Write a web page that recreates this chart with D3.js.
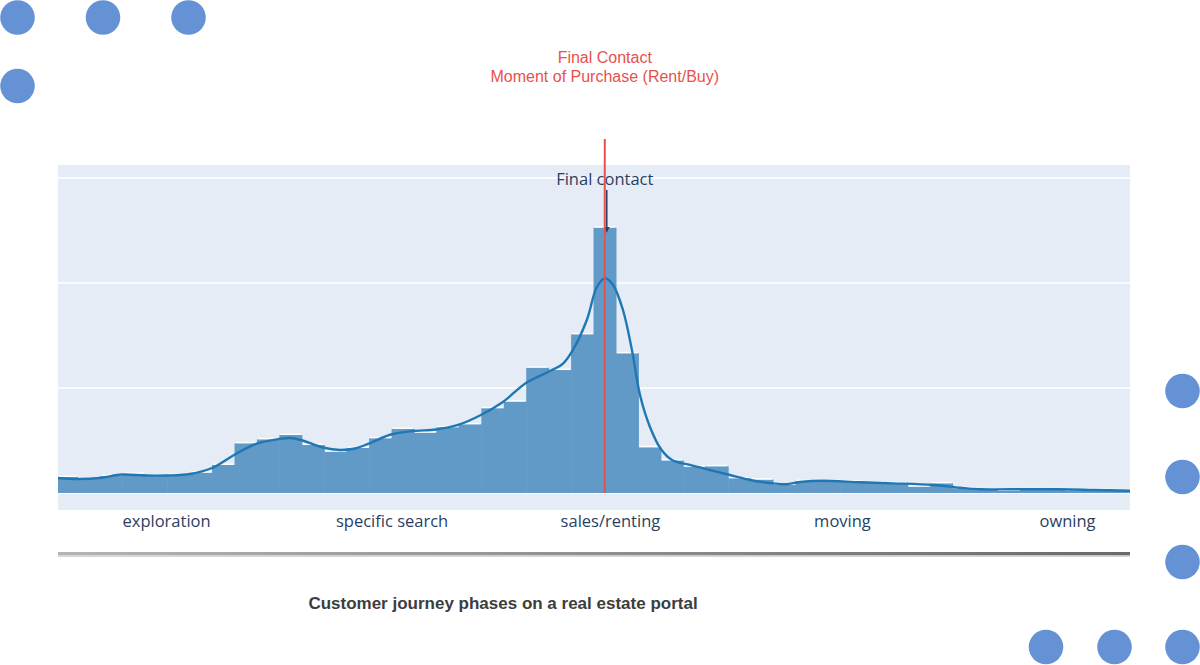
<!DOCTYPE html>
<html>
<head>
<meta charset="utf-8">
<script src="https://cdn.jsdelivr.net/npm/d3@7"></script>
<style>
  html, body { margin: 0; padding: 0; background: #ffffff; }
  svg { display: block; }
</style>
</head>
<body>
<div id="chart"></div>
<script>
// ---------------- DATA ----------------
// histogram counts per bin (48 equal bins along the customer journey axis)
const binCounts = [
  15.2, 13.3, 16.2, 18.1, 16.2, 17.1, 19.3, 26.7, 47.3, 51.1,
  55.2, 45.7, 39.3, 42.9, 52.1, 61.0, 57.4, 62.6, 65.4, 80.7,
  87.0, 119.3, 117.1, 151.1, 252.7, 133.0, 43.5, 31.0, 25.0, 25.4,
  14.0, 12.7, 7.6, 11.4, 11.7, 10.8, 9.8, 9.2, 6.0, 9.2,
  4.5, 3.5, 1.9, 3.5, 3.5, 2.2, 3.1, 2.2
];
// density curve (position in bin units, value in count units)
const kdeX = [0.13, 0.98, 2.0, 2.99, 4.01, 4.99, 6.02, 7.0, 7.98, 8.96,
  9.98, 10.47, 10.96, 11.94, 12.7, 13.37, 13.95, 14.97, 15.95, 16.98,
  17.96, 18.98, 19.96, 20.99, 21.97, 22.64, 23.08, 23.7, 24.15, 24.51,
  24.87, 25.31, 25.71, 26.07, 26.51, 27.0, 27.5, 28.3, 29.19, 30.08,
  30.97, 32.0, 32.58, 33.2, 34.22, 35.87, 37.34, 39.13, 40.33, 41.22,
  42.56, 44.79, 46.26, 47.91];
const kdeY = [14.3, 13.3, 14.3, 17.6, 16.7, 16.7, 18.1, 23.8, 36.2, 46.7,
  51.4, 52.4, 50.5, 43.3, 41.0, 42.4, 46.7, 55.7, 59.0, 60.5,
  64.8, 74.3, 86.7, 104.8, 115.2, 123.3, 136.2, 164.8, 196.2, 204.5,
  198.1, 174.3, 136.2, 93.3, 63.1, 41.9, 31.4, 26.7, 21.9, 17.1,
  12.4, 9.2, 8.3, 10.5, 11.7, 10.2, 9.2, 7.6, 5.0, 3.5,
  3.5, 3.5, 2.9, 2.2];
// journey phase labels on the x axis
const phaseLabels = ["exploration", "specific search", "sales/renting", "moving", "owning"];
const phasePositions = [4.95, 15.0, 24.73, 35.07, 45.1];
// grid values (y)
const gridValues = [0, 100, 200, 300];
// final contact marker
const finalContactX = 24.5;
const finalContactBin = 24;
const topAnnotationLines = ["Final Contact", "Moment of Purchase (Rent/Buy)"];
const markerLabel = "Final contact";
const chartTitle = "Customer journey phases on a real estate portal";

// ---------------- LAYOUT ----------------
const W = 1200, H = 665;
const plot = { left: 58, right: 1130, top: 165, bottom: 510 };

const svg = d3.select("#chart").append("svg")
  .attr("width", W).attr("height", H);

const x = d3.scaleLinear().domain([0, binCounts.length]).range([55, 1132.1]);
const y = d3.scaleLinear().domain([-16.2, 312.4]).range([plot.bottom, plot.top]);

const defs = svg.append("defs");
defs.append("clipPath").attr("id", "plotclip")
  .append("rect")
  .attr("x", plot.left).attr("y", plot.top)
  .attr("width", plot.right - plot.left).attr("height", plot.bottom - plot.top);

const grad = defs.append("linearGradient").attr("id", "sepgrad")
  .attr("x1", "0%").attr("x2", "100%").attr("y1", "0%").attr("y2", "0%");
grad.append("stop").attr("offset", "0%").attr("stop-color", "#b4b4b4");
grad.append("stop").attr("offset", "100%").attr("stop-color", "#6a6a6a");

const arrowM = defs.append("marker").attr("id", "arrowhead")
  .attr("viewBox", "0 0 10 10").attr("refX", 5).attr("refY", 5)
  .attr("markerWidth", 4).attr("markerHeight", 4).attr("orient", "auto");
arrowM.append("path").attr("d", "M0,0 L10,5 L0,10 z").attr("fill", "#2a3f5f");

// decorative dots
const dotColor = "#6592d5";
const dots = [[17.5, 17.5], [103, 17.5], [188.5, 17.5], [17.5, 86],
  [1182.5, 391], [1182.5, 477], [1182.5, 562],
  [1046, 647], [1114.5, 647], [1182.5, 647]];
svg.append("g").selectAll("circle").data(dots).join("circle")
  .attr("cx", d => d[0]).attr("cy", d => d[1]).attr("r", 17.3)
  .attr("fill", dotColor);

// plot background
svg.append("rect")
  .attr("x", plot.left).attr("y", plot.top)
  .attr("width", plot.right - plot.left).attr("height", plot.bottom - plot.top)
  .attr("fill", "#e5ecf6");

// gridlines
svg.append("g").selectAll("line").data(gridValues).join("line")
  .attr("x1", plot.left).attr("x2", plot.right)
  .attr("y1", d => y(d)).attr("y2", d => y(d))
  .attr("stroke", "#ffffff")
  .attr("stroke-width", d => d === 0 ? 2 : 1.5);

const g = svg.append("g").attr("clip-path", "url(#plotclip)");

// bars (opaque blend of #1f77b4 at 0.7 over the plot background)
g.append("g").selectAll("rect").data(binCounts).join("rect")
  .attr("x", (d, i) => x(i)).attr("width", (d, i) => x(i + 1) - x(i) + 0.5)
  .attr("y", d => y(d)).attr("height", d => y(0) - y(d))
  .attr("fill", "#619ac7");

// white top edges of bars
g.append("g").selectAll("line").data(binCounts).join("line")
  .attr("x1", (d, i) => x(i) + 1).attr("x2", (d, i) => x(i + 1) - 1)
  .attr("y1", d => y(d) - 0.8).attr("y2", d => y(d) - 0.8)
  .attr("stroke", "#ffffff").attr("stroke-width", 1.4).attr("stroke-opacity", 0.9);

// density curve
const kde = kdeX.map((v, i) => [v, kdeY[i]]);
g.append("path").datum(kde)
  .attr("d", d3.line().x(d => x(d[0])).y(d => y(d[1])).curve(d3.curveCatmullRom.alpha(0.5)))
  .attr("fill", "none").attr("stroke", "#1f77b4").attr("stroke-width", 2.4);

// x axis labels
const xAxis = d3.axisBottom(x).tickValues(phasePositions)
  .tickFormat((d, i) => phaseLabels[i]).tickSize(0).tickPadding(0);
const ax = svg.append("g").attr("transform", `translate(0, ${plot.bottom})`).call(xAxis);
ax.select(".domain").remove();
ax.selectAll("text")
  .attr("y", 5)
  .attr("fill", "#2a3f5f")
  .style("font-family", "'Open Sans', sans-serif")
  .style("font-size", "16.5px");

// annotation arrow (dark) beside red marker
const fx = x(finalContactX);
svg.append("line")
  .attr("x1", fx + 2).attr("x2", fx + 2)
  .attr("y1", 190).attr("y2", y(binCounts[finalContactBin]) + 2)
  .attr("stroke", "#2a3f5f").attr("stroke-width", 1.5)
  .attr("marker-end", "url(#arrowhead)");

// marker label
svg.append("text")
  .attr("x", fx).attr("y", 185)
  .attr("text-anchor", "middle")
  .attr("fill", "#2a3f5f")
  .style("font-family", "'Open Sans', sans-serif")
  .style("font-size", "16.5px")
  .text(markerLabel);

// red vertical line
svg.append("line")
  .attr("x1", fx).attr("x2", fx)
  .attr("y1", 139).attr("y2", y(0))
  .attr("stroke", "#e9504d").attr("stroke-width", 2);

// red annotation text
svg.append("g").selectAll("text").data(topAnnotationLines).join("text")
  .attr("x", fx).attr("y", (d, i) => 63 + i * 19)
  .attr("text-anchor", "middle")
  .attr("fill", "#e9504d")
  .style("font-family", "'Liberation Sans', Arial, sans-serif")
  .style("font-size", "16px")
  .text(d => d);

// separator line below the axis
svg.append("rect")
  .attr("x", plot.left).attr("y", 552)
  .attr("width", plot.right - plot.left).attr("height", 3.5)
  .attr("fill", "url(#sepgrad)");
svg.append("rect")
  .attr("x", plot.left).attr("y", 555.5)
  .attr("width", plot.right - plot.left).attr("height", 1.5)
  .attr("fill", "#d6d6d6");

// chart title
svg.append("text")
  .attr("x", 503).attr("y", 609)
  .attr("text-anchor", "middle")
  .attr("fill", "#3d3d3d")
  .style("font-family", "'Liberation Sans', Arial, sans-serif")
  .style("font-weight", "bold")
  .style("font-size", "17px")
  .text(chartTitle);
</script>
</body>
</html>
